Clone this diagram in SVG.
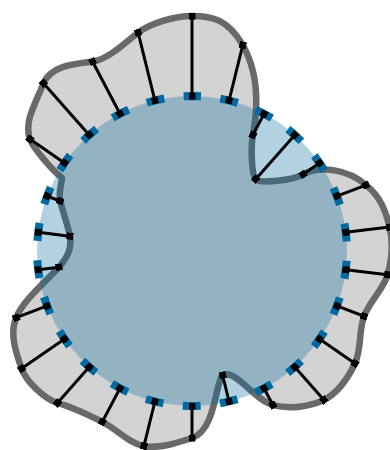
<svg xmlns="http://www.w3.org/2000/svg" width="390" height="450" viewBox="0 0 390 450">
<style>
.blob{fill:#d3d3d3;stroke:#696969;stroke-width:6.5;stroke-linejoin:round}
.disk{fill:#0069a0;fill-opacity:0.3;stroke:none}
.ring{fill:none;stroke:#0069a0;stroke-width:8;stroke-dasharray:18 19.457;stroke-dashoffset:9}
.spoke{stroke:#000;stroke-width:3;marker-start:url(#sq);marker-end:url(#sq)}
</style>
<defs>
<marker id="sq" viewBox="0 0 7 7" refX="3.5" refY="3.5" markerWidth="7" markerHeight="7" markerUnits="userSpaceOnUse" orient="auto"><rect width="7" height="7" fill="#000"/></marker>
</defs>
<g id="blob">
<path class="blob" d="M192,16 C212,16 228.1,19.2 242.74,45.16 C259,74 258,108 252.88,135 C250.6,147.2 251.66,175.14 255.66,179.14 C260.66,184.14 292.1,180.31 303.1,174.31 C320,165 349,169.5 365.91,185.04 C381,197 385.94,212.06 389.55,227.01 C393.16,241.96 391.81,259.88 387.56,274.75 C383.31,289.62 369.48,301.46 364.04,316.25 C358.6,331.04 361.63,349.53 354.95,363.48 C348.27,377.43 337.64,393.02 323.96,399.95 C310.28,406.88 289.75,409.18 272.86,405.07 C255.97,400.96 234,368 222.63,375.28 C215.5,381 216,430 192,438 C177,443 158.85,448.85 143.9,446.16 C128.95,443.47 116.73,429.09 102.31,421.89 C87.89,414.69 69.39,406.45 57.39,402.95 C45.39,399.45 26.64,382.59 21.64,368.59 C16.64,354.59 9,334 16.22,317.66 C22.44,300.75 49.48,278.15 58.98,267.15 C69.5,255 71.5,246.5 69.9,236.17 C68.9,229.17 62.66,211 60.16,201 C58.16,193 61.5,185 62,178 C54,172 32.87,148.09 29.87,139.09 C23.87,121.09 35.46,103.8 43.46,83.33 C50.46,65.33 76.55,63.51 92.55,61.51 C108.55,59.51 128.15,40.04 138.15,32.54 C150.15,23.54 174,16 192,16 Z"/>
</g>
<g id="circle">
<circle class="disk" cx="192" cy="251" r="155"/>
<path class="ring" d="M192,96 A155,155 0 0 1 192,406 A155,155 0 0 1 192,96"/>
</g>
<g id="connectors">
<line class="spoke" x1="192" y1="96" x2="192" y2="16"/>
<line class="spoke" x1="229.09" y1="100.50" x2="242.74" y2="45.16"/>
<line class="spoke" x1="264.03" y1="113.75" x2="252.88" y2="135"/>
<line class="spoke" x1="294.78" y1="134.98" x2="255.66" y2="179.14"/>
<line class="spoke" x1="319.56" y1="162.95" x2="303.10" y2="174.31"/>
<line class="spoke" x1="336.93" y1="196.04" x2="365.91" y2="185.04"/>
<line class="spoke" x1="345.87" y1="232.32" x2="389.55" y2="227.01"/>
<line class="spoke" x1="345.87" y1="269.68" x2="387.56" y2="274.75"/>
<line class="spoke" x1="336.93" y1="305.96" x2="364.04" y2="316.25"/>
<line class="spoke" x1="319.56" y1="339.05" x2="354.95" y2="363.48"/>
<line class="spoke" x1="294.78" y1="367.02" x2="323.96" y2="399.95"/>
<line class="spoke" x1="264.03" y1="388.25" x2="272.86" y2="405.07"/>
<line class="spoke" x1="229.09" y1="401.50" x2="222.63" y2="375.28"/>
<line class="spoke" x1="192" y1="406" x2="192" y2="438"/>
<line class="spoke" x1="154.91" y1="401.50" x2="143.90" y2="446.16"/>
<line class="spoke" x1="119.97" y1="388.25" x2="102.31" y2="421.89"/>
<line class="spoke" x1="89.22" y1="367.02" x2="57.39" y2="402.95"/>
<line class="spoke" x1="64.44" y1="339.05" x2="21.64" y2="368.59"/>
<line class="spoke" x1="47.07" y1="305.96" x2="16.22" y2="317.66"/>
<line class="spoke" x1="38.13" y1="269.68" x2="58.98" y2="267.15"/>
<line class="spoke" x1="38.13" y1="232.32" x2="69.90" y2="236.17"/>
<line class="spoke" x1="47.07" y1="196.04" x2="60.16" y2="201"/>
<line class="spoke" x1="64.44" y1="162.95" x2="29.87" y2="139.09"/>
<line class="spoke" x1="89.22" y1="134.98" x2="43.46" y2="83.33"/>
<line class="spoke" x1="119.97" y1="113.75" x2="92.55" y2="61.51"/>
<line class="spoke" x1="154.91" y1="100.50" x2="138.15" y2="32.54"/>
</g>
</svg>
